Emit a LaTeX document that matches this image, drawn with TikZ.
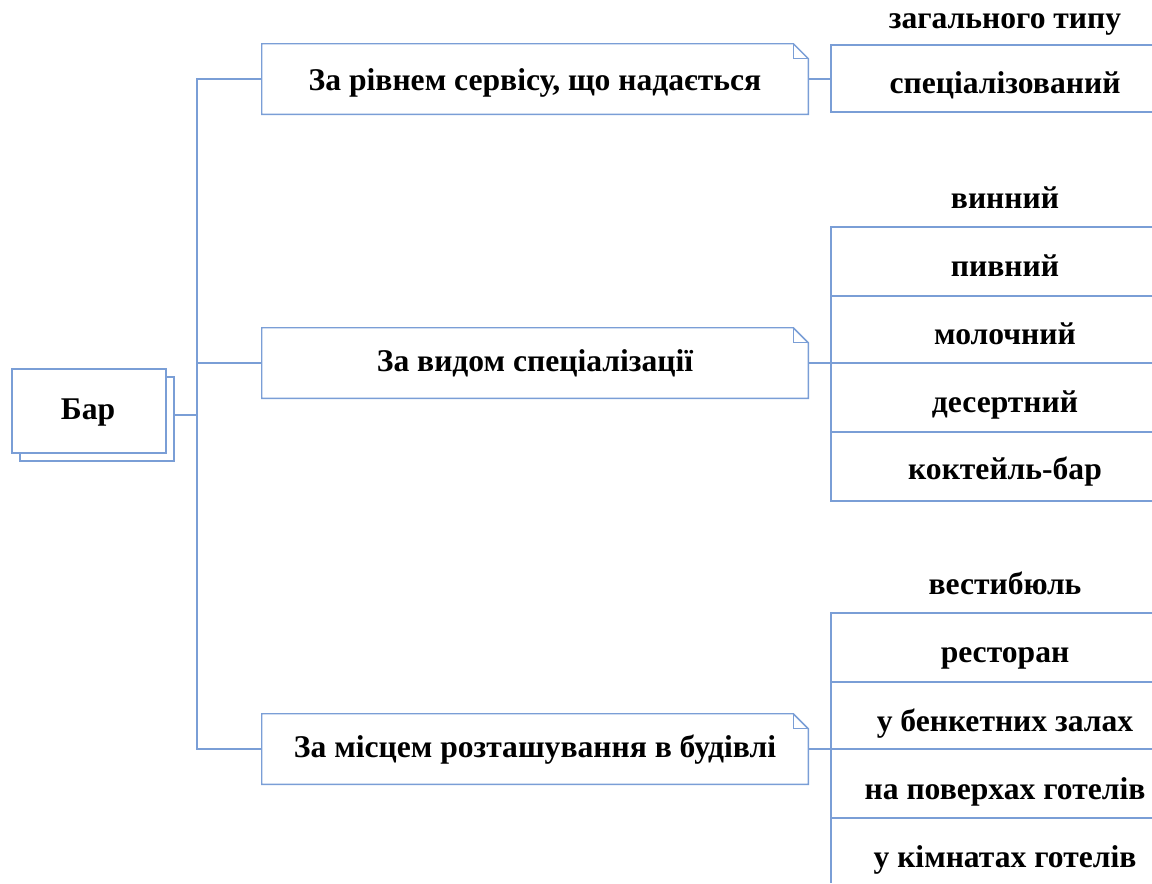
\documentclass[tikz,border=0pt]{standalone}
\usepackage{fontspec}
\setmainfont{Liberation Serif}
\usetikzlibrary{calc}
\definecolor{lineblue}{RGB}{122,158,214}
\begin{document}
\begin{tikzpicture}[x=0.75pt,y=-0.75pt,
  wire/.style={draw=lineblue,line width=1.1pt},
  txt/.style={font=\bfseries\fontsize{23.7}{27}\selectfont,inner sep=0pt,
              text height=10.8pt,text depth=0pt},
  catbox/.style={txt,minimum width=409.5pt,minimum height=52.5pt},
  barbox/.style={txt,draw=lineblue,fill=white,line width=1.1pt,
                 minimum width=115.5pt,minimum height=63pt},
  item/.style={txt}]
\useasboundingbox (0,0) rectangle (1152,883);

% root with a stacked copy behind it
\node[barbox] (barback) at (97,419) {};
\node[barbox] (bar) at (89,411) {};
\node[txt] (bartext) at (88,412) {Бар};

% category boxes with a folded corner
\node[catbox,text height=17pt] (cat1) at (535,79) {За рівнем сервісу, що надається};
\node[catbox,text height=12pt] (cat2) at (535,363) {За видом спеціалізації};
\node[catbox,text height=12pt] (cat3) at (535,749) {За місцем розташування в будівлі};
\foreach \c in {cat1,cat2,cat3}{
  \draw[wire] (\c.south west) -- (\c.north west) -- ($(\c.north east)+(-15,0)$)
    -- ($(\c.north east)+(0,15)$) -- (\c.south east) -- cycle;
  \draw[wire] ($(\c.north east)+(-15,0)$) -- ($(\c.north east)+(-15,15)$)
    -- ($(\c.north east)+(0,15)$);
}

% trunk joining the root to the categories
\coordinate (tr1) at (197,79);
\coordinate (tr3) at (197,749);
\coordinate (j) at (197,415);
\draw[wire] (cat1.west) -- (tr1) -- (tr3) -- (cat3.west);
\draw[wire] (cat2.west) -- (cat2.west -| tr1);
\draw[wire] (barback.east |- j) -- (j);

% first list
\node[item] (a1) at (1005,21) {загального типу};
\node[item] (a2) at (1005,86.5) {спеціалізований};
\coordinate (l1t) at (831,45);
\coordinate (l1b) at (831,112);
\draw[wire] (1152,45) -- (l1t) -- (l1b) -- (1152,112);
\draw[wire] (cat1.east) -- (cat1.east -| l1t);

% second list
\node[item] (b1) at (1005,201) {винний};
\node[item] (b2) at (1005,269.5) {пивний};
\node[item] (b3) at (1005,337.5) {молочний};
\node[item] (b4) at (1005,405) {десертний};
\node[item] (b5) at (1005,472.5) {коктейль-бар};
\coordinate (l2t) at (831,227);
\coordinate (l2b) at (831,501);
\draw[wire] (1152,227) -- (l2t) -- (l2b) -- (1152,501);
\foreach \yy in {296,432}{ \draw[wire] (831,\yy) -- (1152,\yy); }
\draw[wire] (cat2.east) -- (cat2.east -| 1152,0);

% third list
\node[item] (c1) at (1005,587.5) {вестибюль};
\node[item] (c2) at (1005,655.5) {ресторан};
\node[item] (c3) at (1005,724.5) {у бенкетних залах};
\node[item] (c4) at (1005,792.5) {на поверхах готелів};
\node[item] (c5) at (1005,860.5) {у кімнатах готелів};
\coordinate (l3t) at (831,613);
\coordinate (l3b) at (831,883);
\draw[wire] (1152,613) -- (l3t) -- (l3b);
\foreach \yy in {682,818}{ \draw[wire] (831,\yy) -- (1152,\yy); }
\draw[wire] (cat3.east) -- (cat3.east -| 1152,0);
\end{tikzpicture}
\end{document}
